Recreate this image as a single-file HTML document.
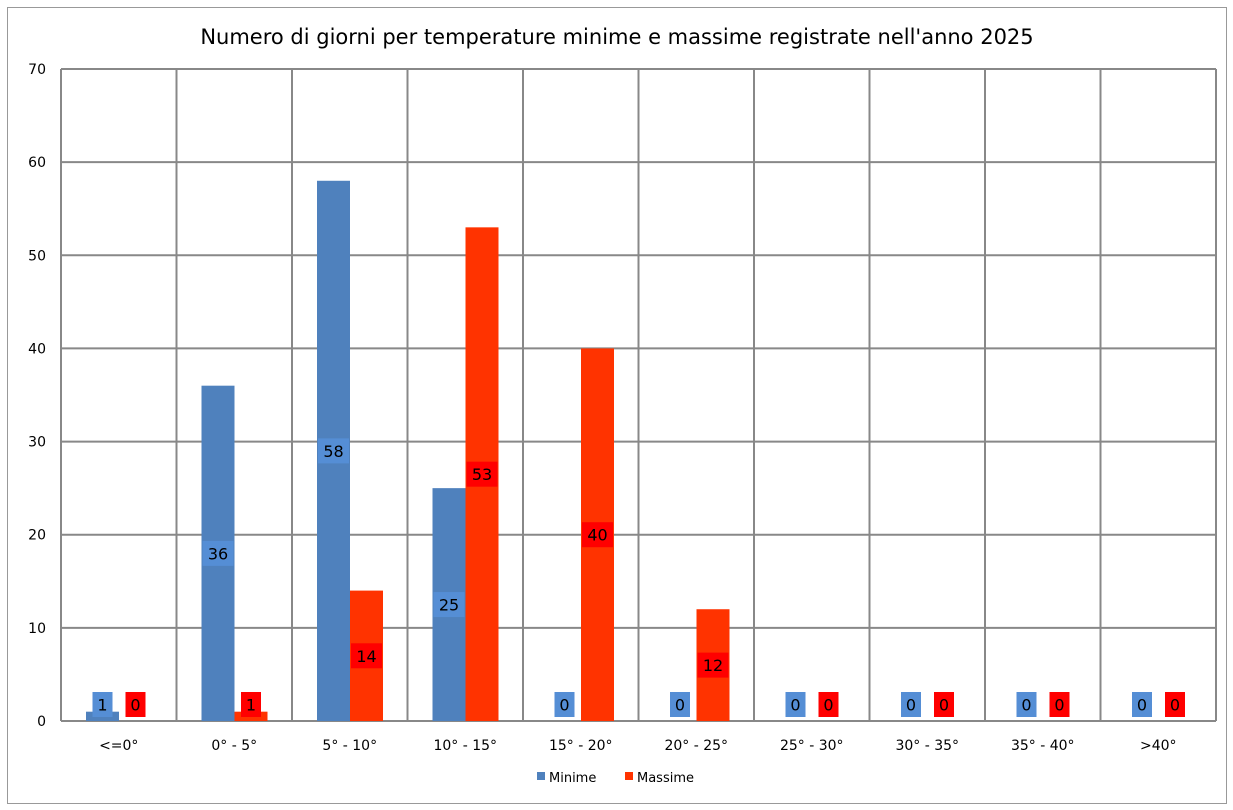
<!DOCTYPE html>
<html><head><meta charset="utf-8"><style>
body{margin:0;background:#fff;}
svg{display:block;font-family:"DejaVu Sans","Liberation Sans",sans-serif;}
</style></head><body>
<svg id="c" width="1233" height="810">
<rect x="7.5" y="7.5" width="1219" height="796" fill="#fff" stroke="#999"/>
<text x="617" y="44" text-anchor="middle" font-size="21" fill="#000">Numero di giorni per temperature minime e massime registrate nell'anno 2025</text>
<g id="grid"></g><g id="bars"></g><g id="labels"></g>
<g>
<rect x="537" y="772" width="8" height="8" fill="#4f81bd"/>
<text x="549" y="782" font-size="13">Minime</text>
<rect x="625" y="772" width="8" height="8" fill="#ff3300"/>
<text x="637" y="782" font-size="13">Massime</text>
</g>
</svg>
<script>
const categories=["<=0°","0° - 5°","5° - 10°","10° - 15°","15° - 20°","20° - 25°","25° - 30°","30° - 35°","35° - 40°",">40°"];
const minime=[1,36,58,25,0,0,0,0,0,0];
const massime=[0,1,14,53,40,12,0,0,0,0];
const yTicks=[0,10,20,30,40,50,60,70];
const NS="http://www.w3.org/2000/svg";
const L=61,R=1216,T=69,B=721,MAX=70;
const cw=(R-L)/categories.length;
const y=v=>B-(B-T)*v/MAX;
const x=i=>L+cw*i;
function mk(tag,a,p,txt){const e=document.createElementNS(NS,tag);for(const k in a)e.setAttribute(k,a[k]);if(txt!==undefined)e.textContent=txt;p.appendChild(e);return e;}
const g=document.getElementById('grid'),b=document.getElementById('bars'),lb=document.getElementById('labels');
yTicks.forEach(t=>{
 const l=mk('line',{x1:L,x2:R,y1:y(t),y2:y(t),stroke:'#888','stroke-width':2},g);
 
 
 const tx=mk('text',{x:46,y:y(t)+5,'text-anchor':'end','font-size':14},g,t);
 
 
});
for(let i=0;i<=categories.length;i++){
 const l=mk('line',{x1:x(i),x2:x(i),y1:T,y2:B,stroke:'#888','stroke-width':2},g);
 
 
}
categories.forEach((c,i)=>{
 const tx=mk('text',{x:x(i)+cw/2,y:750,'text-anchor':'middle','font-size':14},g,c);
 
 
 [[minime,'#4f81bd','#558ed5',0,'minime'],[massime,'#ff3300','#ff0000',1,'massime']].forEach(([arr,col,lc,k,nm])=>{
  const v=arr[i],bx=x(i)+25+k*33,bw=33;
  if(v>0){const r=mk('rect',{x:bx,y:y(v),width:bw,height:B-y(v),fill:col},b);
   
   }
  const s=String(v),w=s.length>1?31:20,h=25;
  let cy=(y(v)+B)/2;cy=Math.min(cy,B-4-h/2);
  const cx=bx+bw/2;
  const r2=mk('rect',{x:cx-w/2,y:cy-h/2,width:w,height:h,fill:lc},lb);
  
  
  const t=mk('text',{x:cx,y:cy+6,'text-anchor':'middle','font-size':16,fill:'#000'},lb,s);
  
  
 });
});
</script>
</body></html>
